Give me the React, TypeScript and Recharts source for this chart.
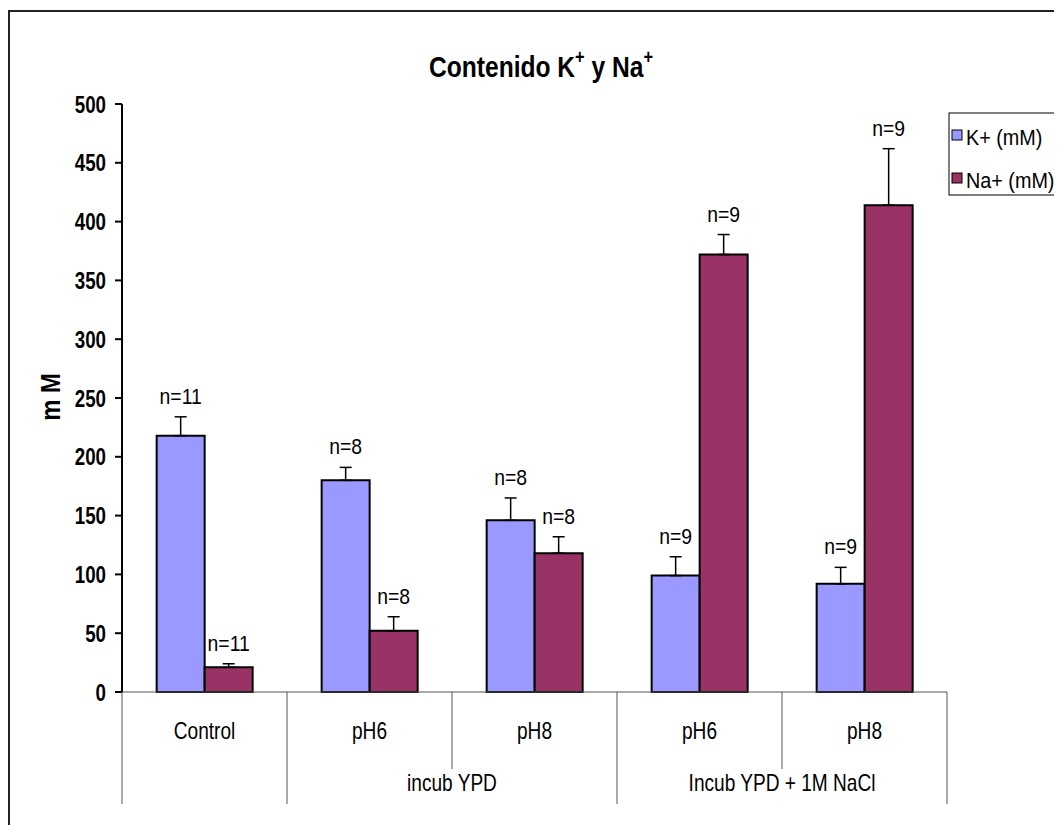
import { BarChart, Bar, XAxis, YAxis, ErrorBar, LabelList } from "recharts";

const categories = ["Control", "pH6", "pH8", "pH6", "pH8"];
const groups = ["", "incub YPD", "incub YPD", "Incub YPD + 1M NaCl", "Incub YPD + 1M NaCl"];
const kValues = [218, 180, 146, 99, 92];
const kErrors = [16, 11, 19, 16, 14];
const naValues = [21, 52, 118, 372, 414];
const naErrors = [3, 12, 14, 17, 48];
const kN = [11, 8, 8, 9, 9];
const naN = [11, 8, 8, 9, 9];
const yTicks = [0, 50, 100, 150, 200, 250, 300, 350, 400, 450, 500];
const legendItems = ["K+ (mM)", "Na+ (mM)"];

const K_COLOR = "#9999ff";
const NA_COLOR = "#993366";
const FONT = "'Liberation Sans', Arial, sans-serif";

const W = 1054;
const H = 817;
const MARGIN = { top: 96, left: 54, right: 115, bottom: 13 };
const Y_W = 60;
const X_H = 120;
const PLOT_W = W - MARGIN.left - Y_W - MARGIN.right;

const data = categories.map((c, i) => ({
  key: `${i}-${c}`,
  k: kValues[i],
  kErr: [0, kErrors[i]],
  kN: kN[i],
  na: naValues[i],
  naErr: [0, naErrors[i]],
  naN: naN[i],
}));

// narrow text: Arial metrics squeezed horizontally
function NText({ x, y, size, sx = 0.83, bold = false, anchor = "middle", rotate = 0, children }: any) {
  return (
    <text
      transform={`translate(${x},${y})${rotate ? ` rotate(${rotate})` : ""} scale(${sx},1)`}
      textAnchor={anchor}
      fontFamily={FONT}
      fontSize={size}
      fontWeight={bold ? "bold" : "normal"}
      fill="#000"
    >
      {children}
    </text>
  );
}

function CatTick(props: any) {
  const { x, y, index } = props;
  const bw = PLOT_W / categories.length;
  const left = x - bw / 2;
  const newGroup = index === 0 || groups[index] !== groups[index - 1];
  let span = 0;
  if (newGroup) {
    for (let j = index; j < groups.length && groups[j] === groups[index]; j++) span++;
  }
  return (
    <g>
      <line x1={left} y1={y} x2={left} y2={y + (newGroup ? 112 : 77)} stroke="#555" strokeWidth={1} />
      {index === categories.length - 1 && (
        <line x1={x + bw / 2} y1={y} x2={x + bw / 2} y2={y + 112} stroke="#555" strokeWidth={1} />
      )}
      <NText x={x} y={y + 47} size={23}>
        {categories[index]}
      </NText>
      {newGroup && groups[index] && (
        <NText x={left + (span * bw) / 2} y={y + 99} size={23}>
          {groups[index]}
        </NText>
      )}
    </g>
  );
}

function YTick(props: any) {
  const { x, y, payload } = props;
  return (
    <NText x={x} y={y + 8.5} size={24} sx={0.78} bold anchor="end">
      {payload.value}
    </NText>
  );
}

function makeLabel(values: number[], errors: number[]) {
  return (props: any) => {
    const vb = props.viewBox ?? props;
    const { x, y, width, height } = vb;
    const i = props.index;
    const perUnit = height / values[i];
    const errTop = y - errors[i] * perUnit;
    return (
      <NText x={x + width / 2} y={errTop - 13} size={22} sx={0.88}>
        {`n=${props.value}`}
      </NText>
    );
  };
}

export default function App() {
  return (
    <div style={{ position: "relative", width: W, height: H, overflow: "hidden", background: "#fff" }}>
      <div style={{ position: "absolute", left: 0, top: 2, width: 1100, height: 900, border: "2px solid #222" }} />
      <BarChart
        width={W}
        height={H}
        data={data}
        margin={MARGIN}
        barCategoryGap="21%"
        barGap={0}
        style={{ position: "absolute", left: 0, top: 0 }}
      >
        <XAxis
          dataKey="key"
          height={X_H}
          axisLine={{ stroke: "#555", strokeWidth: 1 }}
          tickLine={false}
          tickSize={0}
          tickMargin={0}
          interval={0}
          tick={<CatTick />}
        />
        <YAxis
          width={Y_W}
          domain={[0, 500]}
          ticks={yTicks}
          axisLine={{ stroke: "#000", strokeWidth: 2 }}
          tickLine={{ stroke: "#000", strokeWidth: 2 }}
          tickSize={7}
          tickMargin={9}
          tick={<YTick />}
        />
        <Bar dataKey="k" fill={K_COLOR} stroke="#000" strokeWidth={2} isAnimationActive={false}>
          <ErrorBar dataKey="kErr" width={6} stroke="#000" strokeWidth={1.5} direction="y" />
          <LabelList dataKey="kN" content={makeLabel(kValues, kErrors)} />
        </Bar>
        <Bar dataKey="na" fill={NA_COLOR} stroke="#000" strokeWidth={2} isAnimationActive={false}>
          <ErrorBar dataKey="naErr" width={6} stroke="#000" strokeWidth={1.5} direction="y" />
          <LabelList dataKey="naN" content={makeLabel(naValues, naErrors)} />
        </Bar>
      </BarChart>
      <svg width={W} height={H} style={{ position: "absolute", left: 0, top: 0, pointerEvents: "none" }}>
        <text transform="translate(533,69) scale(0.82,1)" textAnchor="middle" fontFamily={FONT} fontSize={30} fontWeight="bold">
          Contenido K
          <tspan dy={-13} fontSize={20}>+</tspan>
          <tspan dy={13}> y Na</tspan>
          <tspan dy={-13} fontSize={20}>+</tspan>
        </text>
        <NText x={52} y={389} size={27} sx={0.88} bold rotate={-90}>
          m M
        </NText>
        <rect x={941} y={105} width={200} height={82} fill="#fff" stroke="#000" strokeWidth={1} />
        {legendItems.map((label, i) => (
          <g key={label}>
            <rect x={944} y={122 + i * 43} width={10} height={10} fill={i === 0 ? K_COLOR : NA_COLOR} stroke="#000" strokeWidth={1} />
            <NText x={958} y={137 + i * 43} size={22} sx={0.9} anchor="start">
              {label}
            </NText>
          </g>
        ))}
      </svg>
    </div>
  );
}
